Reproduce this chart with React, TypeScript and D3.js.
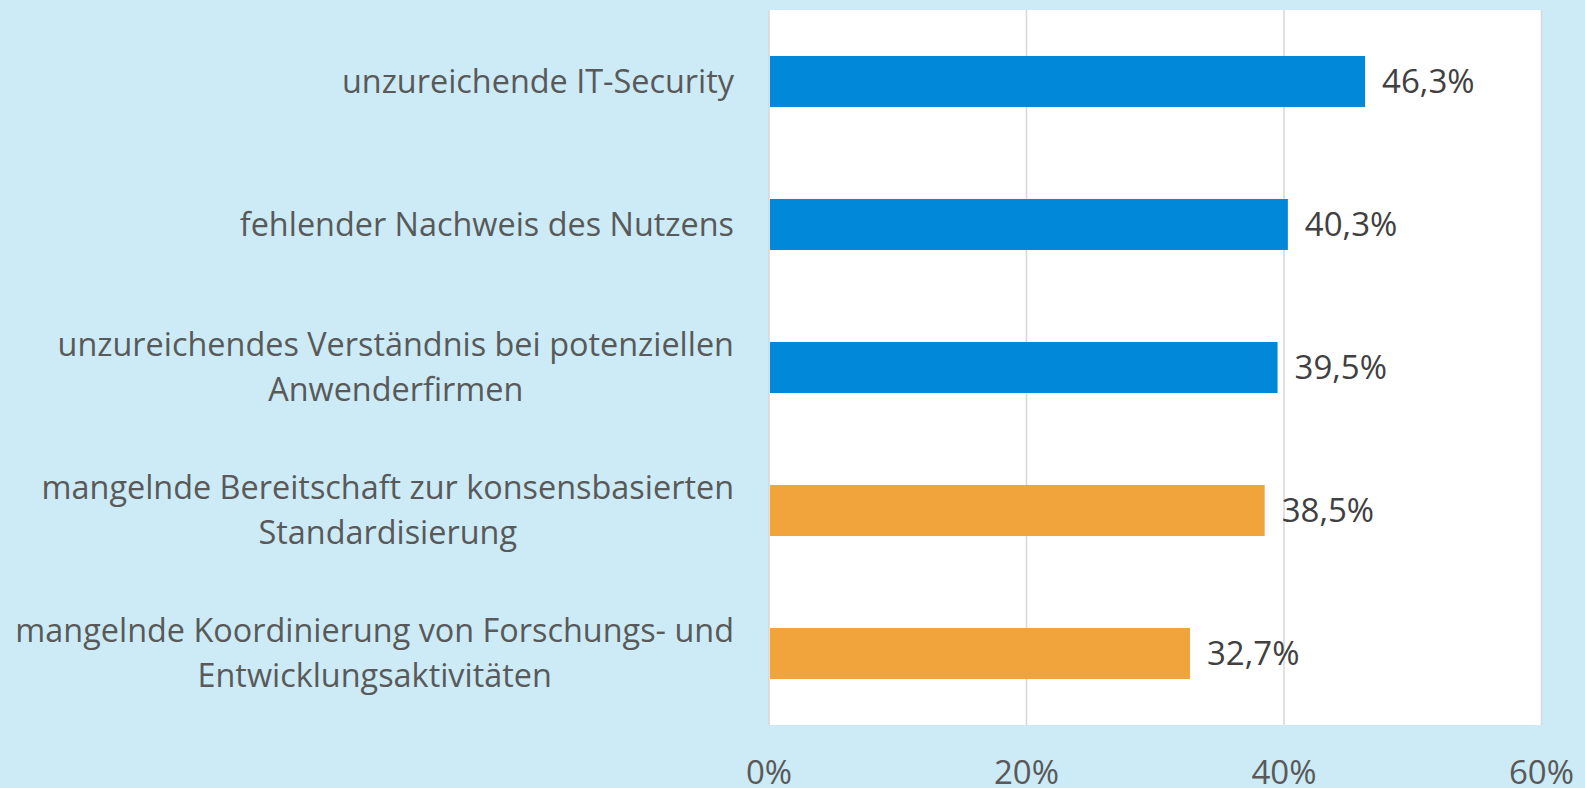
import React, { useEffect, useRef } from "react";
import * as d3 from "d3";

const categories: string[][] = [
  ["unzureichende IT-Security"],
  ["fehlender Nachweis des Nutzens"],
  ["unzureichendes Verständnis bei potenziellen", "Anwenderfirmen"],
  ["mangelnde Bereitschaft zur konsensbasierten", "Standardisierung"],
  ["mangelnde Koordinierung von Forschungs- und", "Entwicklungsaktivitäten"],
];
const values: number[] = [0.463, 0.403, 0.395, 0.385, 0.327];
const valueLabels: string[] = ["46,3%", "40,3%", "39,5%", "38,5%", "32,7%"];
const barGroups: string[] = ["blue", "blue", "blue", "orange", "orange"];
const ticks: number[] = [0, 0.2, 0.4, 0.6];
const tickLabels: string[] = ["0%", "20%", "40%", "60%"];

const W = 1585;
const H = 788;
const BG = "#CCEBF6";
const colors: Record<string, string> = { blue: "#0288D9", orange: "#F1A43B" };
const FONT = "'Open Sans', 'Noto Sans', sans-serif";

export default function App() {
  const ref = useRef<SVGSVGElement | null>(null);

  useEffect(() => {
    const svg = d3.select(ref.current);
    svg.selectAll("*").remove();

    const plot = { left: 769, right: 1541.5, top: 10, bottom: 725 };
    const x = d3.scaleLinear().domain([0, 0.6]).range([plot.left, plot.right]);
    const y = d3
      .scaleBand<number>()
      .domain(categories.map((_, i) => i))
      .range([plot.top, plot.bottom])
      .paddingInner(0.643)
      .paddingOuter(0.3215);

    svg.append("rect").attr("width", W).attr("height", H).attr("fill", BG);
    svg
      .append("rect")
      .attr("x", plot.left)
      .attr("y", plot.top)
      .attr("width", plot.right - plot.left)
      .attr("height", plot.bottom - plot.top)
      .attr("fill", "#FFFFFF");

    svg
      .append("g")
      .selectAll("line")
      .data(ticks)
      .join("line")
      .attr("x1", (d) => x(d))
      .attr("x2", (d) => x(d))
      .attr("y1", plot.top)
      .attr("y2", plot.bottom)
      .attr("stroke", "#D9D9D9")
      .attr("stroke-width", 1.6);

    svg
      .append("g")
      .selectAll("rect")
      .data(values)
      .join("rect")
      .attr("x", x(0) + 1)
      .attr("y", (_, i) => y(i) as number)
      .attr("width", (d) => x(d) - x(0) - 1)
      .attr("height", y.bandwidth())
      .attr("fill", (_, i) => colors[barGroups[i]]);

    svg
      .append("g")
      .selectAll("text")
      .data(values)
      .join("text")
      .attr("x", (d) => x(d) + 17)
      .attr("y", (_, i) => (y(i) as number) + y.bandwidth() / 2 + 11.5)
      .attr("font-family", FONT)
      .attr("font-size", 33)
      .attr("fill", "#404040")
      .text((_, i) => valueLabels[i]);

    // axis tick labels
    svg
      .append("g")
      .selectAll("text")
      .data(ticks)
      .join("text")
      .attr("x", (d) => x(d))
      .attr("y", 784)
      .attr("text-anchor", "middle")
      .attr("font-family", FONT)
      .attr("font-size", 33)
      .attr("fill", "#595959")
      .text((_, i) => tickLabels[i]);

    // category labels
    const rightEdge = 734;
    const lineGap = 44.5;
    categories.forEach((lines, i) => {
      const cy = (y(i) as number) + y.bandwidth() / 2;
      const g = svg.append("g");
      const texts = lines.map((line, j) =>
        g
          .append("text")
          .attr("y", cy + 11 + (j - (lines.length - 1) / 2) * lineGap)
          .attr("font-family", FONT)
          .attr("font-size", 32.4)
          .attr("fill", "#595959")
          .attr("text-anchor", "middle")
          .text(line)
      );
      const maxW = d3.max(texts, (t) => (t.node() as SVGTextElement).getComputedTextLength()) || 0;
      texts.forEach((t) => t.attr("x", rightEdge - maxW / 2));
    });
  }, []);

  return (
    <svg
      ref={ref}
      width={W}
      height={H}
      style={{ position: "absolute", left: 0, top: 0, display: "block" }}
    />
  );
}
